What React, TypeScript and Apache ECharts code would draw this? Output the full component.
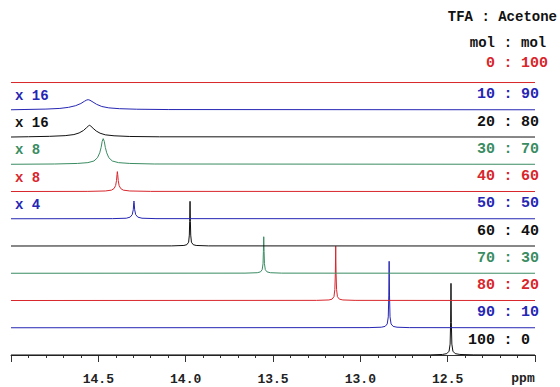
import React, { useEffect, useRef } from "react";
import * as echarts from "echarts";

// TFA : Acetone mol ratios, bottom trace first
const tfaMol = [100, 90, 80, 70, 60, 50, 40, 30, 20, 10, 0];
const acetoneMol = [0, 10, 20, 30, 40, 50, 60, 70, 80, 90, 100];
const traceColors = [
  "#111111", "#2626b4", "#d8262c", "#3a8c62",
  "#111111", "#2626b4", "#d8262c", "#3a8c62",
  "#111111", "#2626b4", "#d8262c",
];
const scaleLabels = ["", "", "", "", "", "x 4", "x 8", "x 8", "x 16", "x 16", ""];

// spectra: [ppm, intensity] (intensity in units of trace spacing)
const spec100_0 = [[15, 0], [12.6, 0.005], [12.53, 0.02], [12.505, 0.05], [12.492, 0.14], [12.486, 0.4], [12.483, 1.2], [12.481, 2.63], [12.479, 1.2], [12.476, 0.4], [12.47, 0.14], [12.457, 0.05], [12.43, 0.02], [12.35, 0.005], [12, 0]];
const spec90_10 = [[15, 0], [12.95, 0.005], [12.88, 0.02], [12.858, 0.05], [12.846, 0.14], [12.84, 0.4], [12.837, 1.2], [12.835, 2.44], [12.833, 1.2], [12.83, 0.4], [12.824, 0.14], [12.812, 0.05], [12.79, 0.02], [12.72, 0.005], [12, 0]];
const spec80_20 = [[15, 0], [13.25, 0.005], [13.18, 0.02], [13.162, 0.05], [13.151, 0.14], [13.146, 0.4], [13.143, 1.0], [13.141, 1.99], [13.139, 1.0], [13.136, 0.4], [13.131, 0.14], [13.12, 0.05], [13.1, 0.02], [13.03, 0.005], [12, 0]];
const spec70_30 = [[15, 0], [13.66, 0.005], [13.59, 0.02], [13.572, 0.05], [13.562, 0.13], [13.557, 0.35], [13.555, 0.8], [13.553, 1.34], [13.551, 0.8], [13.549, 0.35], [13.544, 0.13], [13.534, 0.05], [13.515, 0.02], [13.45, 0.005], [12, 0]];
const spec60_40 = [[15, 0], [14.08, 0.005], [14.01, 0.02], [13.993, 0.05], [13.983, 0.14], [13.979, 0.4], [13.977, 0.9], [13.975, 1.64], [13.973, 0.9], [13.971, 0.4], [13.967, 0.14], [13.957, 0.05], [13.94, 0.02], [13.87, 0.005], [12, 0]];
const spec50_50 = [[15, 0], [14.42, 0.005], [14.34, 0.02], [14.318, 0.06], [14.306, 0.15], [14.3, 0.33], [14.297, 0.6], [14.296, 0.65], [14.295, 0.6], [14.292, 0.33], [14.286, 0.15], [14.274, 0.06], [14.25, 0.02], [14.17, 0.005], [12, 0]];
const spec40_60 = [[15, 0], [14.56, 0.005], [14.46, 0.02], [14.425, 0.05], [14.41, 0.11], [14.401, 0.22], [14.396, 0.4], [14.393, 0.62], [14.391, 0.73], [14.389, 0.62], [14.386, 0.4], [14.381, 0.22], [14.372, 0.11], [14.357, 0.05], [14.32, 0.02], [14.2, 0.005], [12, 0]];
const spec30_70 = [[15, 0], [14.75, 0.01], [14.62, 0.03], [14.56, 0.06], [14.525, 0.12], [14.505, 0.24], [14.492, 0.42], [14.484, 0.62], [14.478, 0.84], [14.472, 0.94], [14.466, 0.84], [14.46, 0.62], [14.452, 0.42], [14.44, 0.24], [14.42, 0.12], [14.385, 0.06], [14.32, 0.03], [14.18, 0.01], [12, 0]];
const spec20_80 = [[15, 0], [14.9, 0.01], [14.78, 0.025], [14.69, 0.05], [14.64, 0.09], [14.61, 0.15], [14.585, 0.24], [14.568, 0.34], [14.556, 0.41], [14.55, 0.43], [14.543, 0.4], [14.53, 0.32], [14.512, 0.22], [14.49, 0.14], [14.46, 0.08], [14.41, 0.045], [14.32, 0.02], [14.15, 0.008], [12, 0]];
const spec10_90 = [[15, 0], [14.92, 0.01], [14.8, 0.025], [14.72, 0.05], [14.67, 0.09], [14.63, 0.15], [14.6, 0.23], [14.58, 0.31], [14.566, 0.36], [14.558, 0.37], [14.548, 0.35], [14.53, 0.28], [14.51, 0.2], [14.48, 0.12], [14.44, 0.07], [14.38, 0.04], [14.28, 0.02], [14.1, 0.008], [12, 0]];
const spec0_100 = [[15, 0], [12, 0]];

const spectra = [spec100_0, spec90_10, spec80_20, spec70_30, spec60_40, spec50_50, spec40_60, spec30_70, spec20_80, spec10_90, spec0_100];

const xMin = 12;
const xMax = 15;
const xInterval = 0.5;

const MONO = '"Liberation Mono", "DejaVu Sans Mono", monospace';

export default function App() {
  const ref = useRef<HTMLDivElement>(null);

  useEffect(() => {
    if (!ref.current) return;
    const chart = echarts.init(ref.current, undefined, { renderer: "svg" });

    const series = spectra.map((spec, idx) => ({
      type: "line",
      name: `${tfaMol[idx]} : ${acetoneMol[idx]}`,
      data: spec.map(([x, y]) => [x, y + idx]),
      showSymbol: false,
      symbol: "none",
      smooth: false,
      clip: false,
      lineStyle: { color: traceColors[idx], width: 1 },
      itemStyle: { color: traceColors[idx] },
      z: 2,
    }));

    chart.setOption({
      animation: false,
      grid: { left: 11, right: 25, top: 55, bottom: 23 },
      xAxis: {
        type: "value",
        min: xMin,
        max: xMax,
        inverse: true,
        interval: xInterval,
        axisLine: { show: true, lineStyle: { color: "#333", width: 1 } },
        axisTick: { show: true, length: 7, lineStyle: { color: "#333", width: 1 } },
        minorTick: { show: true, splitNumber: 5, length: 3, lineStyle: { color: "#333", width: 1 } },
        splitLine: { show: false },
        minorSplitLine: { show: false },
        axisLabel: {
          showMinLabel: false,
          showMaxLabel: false,
          fontFamily: MONO,
          fontWeight: "bold",
          fontSize: 13,
          color: "#222",
          margin: 9,
          formatter: (v: number) => v.toFixed(1),
        },
      },
      yAxis: {
        type: "value",
        min: -0.33,
        max: 11.01,
        show: false,
        splitLine: { show: false },
      },
      series,
    });

    const colonX = 508;
    const gap = 13;
    const graphic: any[] = [
      {
        type: "text",
        style: { text: "TFA : Acetone", x: 557, y: 17, textAlign: "right", textVerticalAlign: "middle", font: `bold 14px ${MONO}`, fill: "#111" },
      },
      {
        type: "text",
        style: { text: "mol", x: colonX - gap, y: 43, textAlign: "right", textVerticalAlign: "middle", font: `bold 14px ${MONO}`, fill: "#111" },
      },
      {
        type: "text",
        style: { text: ":", x: colonX, y: 43, textAlign: "center", textVerticalAlign: "middle", font: `bold 14px ${MONO}`, fill: "#111" },
      },
      {
        type: "text",
        style: { text: "mol", x: colonX + gap, y: 43, textAlign: "left", textVerticalAlign: "middle", font: `bold 14px ${MONO}`, fill: "#111" },
      },
      {
        type: "text",
        style: { text: "ppm", x: 523, y: 378, textAlign: "center", textVerticalAlign: "middle", font: `bold 13px ${MONO}`, fill: "#222" },
      },
    ];

    spectra.forEach((_, idx) => {
      const base = chart.convertToPixel({ xAxisIndex: 0, yAxisIndex: 0 }, [xMin, idx]) as number[];
      const y = base[1] - (idx === 10 ? 19 : 15);
      const color = traceColors[idx];
      const font = `bold 15px ${MONO}`;
      graphic.push(
        { type: "text", style: { text: String(tfaMol[idx]), x: colonX - gap, y, textAlign: "right", textVerticalAlign: "middle", font, fill: color } },
        { type: "text", style: { text: ":", x: colonX, y, textAlign: "center", textVerticalAlign: "middle", font, fill: color } },
        { type: "text", style: { text: String(acetoneMol[idx]), x: colonX + gap, y, textAlign: "left", textVerticalAlign: "middle", font, fill: color } },
      );
      if (scaleLabels[idx]) {
        graphic.push({
          type: "text",
          style: { text: scaleLabels[idx], x: 15, y: base[1] - 14, textAlign: "left", textVerticalAlign: "middle", font: `bold 14px ${MONO}`, fill: color },
        });
      }
    });

    chart.setOption({ graphic });

    return () => chart.dispose();
  }, []);

  return <div ref={ref} style={{ width: 560, height: 387, position: "absolute", left: 0, top: 0 }} />;
}
